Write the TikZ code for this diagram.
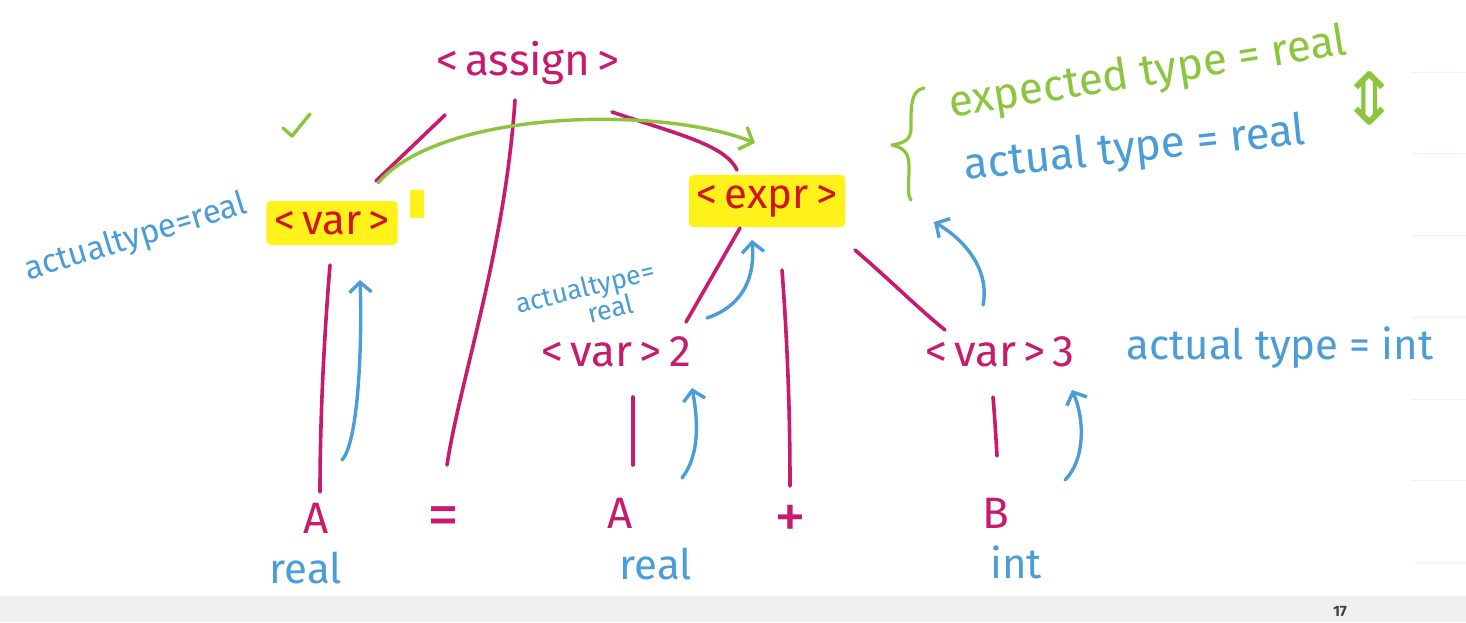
\documentclass[tikz,border=0pt]{standalone}
\usepackage{fontspec}
\setmainfont{Fira Sans}
\newfontfamily\djv{DejaVu Sans}
\usetikzlibrary{arrows.meta,calc}
\definecolor{mag}{HTML}{C81A6E}
\definecolor{blu}{HTML}{4A9DD6}
\definecolor{grn}{HTML}{8CC63E}
\definecolor{hil}{HTML}{FFF21A}
\definecolor{redt}{HTML}{D2141E}
\tikzset{
  sym/.style={text=mag, font=\fontsize{44}{48}\selectfont, inner sep=0pt},
  hsym/.style={text=redt, fill=hil, font=\fontsize{42}{46}\selectfont, inner xsep=8pt, inner ysep=10pt, rounded corners=4pt},
  bnote/.style={text=blu, font=\fontsize{42}{46}\selectfont, inner sep=0pt},
  gnote/.style={text=grn, font=\fontsize{44}{48}\selectfont, inner sep=0pt},
  tree/.style={draw=mag, line width=3.6pt, line cap=round},
  up/.style={draw=blu, line width=3.4pt, line cap=round, -{Straight Barb[length=10pt,width=22pt]}},
  garr/.style={draw=grn, line width=3.4pt, line cap=round, line join=round},
}
\begin{document}
\begin{tikzpicture}[x=1pt,y=-1pt]
\useasboundingbox (0,0) rectangle (1466,622);
\fill[white] (0,0) rectangle (1466,622);
\fill[black!6] (0,596) rectangle (1466,622);
% faint UI lines at right
\foreach \yy in {72,153,235,317,399,480,562}{\draw[blue!6, line width=1pt] (1412,\yy) -- (1466,\yy);}
\node[text=black!75, font=\bfseries\fontsize{15}{17}\selectfont] (pg) at (1340,612) {17};

% nodes
\node[sym] (assign) at (528,63) {<\,assign\,>};
\node[hsym] (var) at (332,223) {<\,var\,>};
\fill[hil] (410,190) rectangle (424,218);
\node[hsym] (expr) at (767,201) {<\,expr\,>};
\node[sym] (var2) at (616,352) {<\,var\,>\,2};
\node[sym] (var3) at (1000,352) {<\,var\,>\,3};
\node[sym] (A1) at (316,518) {A};
\node[sym, font=\fontsize{64}{64}\selectfont] (eq) at (443,522) {=};
\node[sym] (A2) at (620,513) {A};
\node[sym, font=\fontsize{64}{64}\selectfont] (plus) at (790,522) {+};
\node[sym] (B) at (996,513) {B};
\node[bnote] (r1) at (306,568) {real};
\node[bnote] (r2) at (656,564) {real};
\node[bnote] (i3) at (1016,562) {int};

% tree edges
\draw[tree] (445,115) -- (376,181);
\draw[tree] (515,100) .. controls (505,250) and (460,380) .. (447,465);
\draw[tree] (612,112) .. controls (680,135) and (725,145) .. (737,170);
\draw[tree] (330,265) .. controls (323,350) and (320,430) .. (320,492);
\draw[tree] (740,228) -- (686,322);
\draw[tree] (782,270) .. controls (788,350) and (790,420) .. (790,486);
\draw[tree] (855,250) .. controls (890,280) and (920,310) .. (945,330);
\draw[tree] (633,397) -- (633,465);
\draw[tree] (993,397) .. controls (995,420) and (996,440) .. (997,456);

% green arrow var -> expr
\draw[garr, -{Straight Barb[length=11pt,width=24pt]}] (378,183) .. controls (440,110) and (660,105) .. (755,143);
\draw[garr] (283,128) -- (292,136) -- (310,114);

% blue up arrows
\draw[up] (342,460) .. controls (360,440) and (362,330) .. (360,280);
\draw[up] (682,478) .. controls (700,455) and (698,420) .. (692,388);
\draw[up] (1065,480) .. controls (1085,460) and (1085,420) .. (1072,390);
\draw[up] (707,318) .. controls (745,305) and (755,275) .. (752,240);
\draw[up] (983,305) .. controls (990,270) and (965,240) .. (934,222);

% notes
\node[bnote, rotate=17, font=\fontsize{33}{37}\selectfont] (n1) at (136,238) {actualtype=real};
\node[bnote, rotate=14, align=center, font=\fontsize{27}{22}\selectfont] (n2) at (588,300) {actualtype=\\\hspace*{40pt}real};
\node[bnote] (n3) at (1280,348) {actual type = int};
\node[gnote, rotate=9] (n4) at (1148,74) {expected type = real};
\node[bnote, rotate=6, font=\fontsize{44}{48}\selectfont] (n5) at (1135,150) {actual type = real};
\draw[garr, line width=3.2pt] (924,88) .. controls (910,90) and (911,110) .. (911,128) .. controls (911,140) and (904,143) .. (892,145) .. controls (904,148) and (909,153) .. (909,166) .. controls (909,185) and (907,195) .. (911,200);
\node[text=grn, font=\djv\fontsize{72}{72}\selectfont, inner sep=0pt] (dar) at (1370,98) {⇕};
\end{tikzpicture}
\end{document}
